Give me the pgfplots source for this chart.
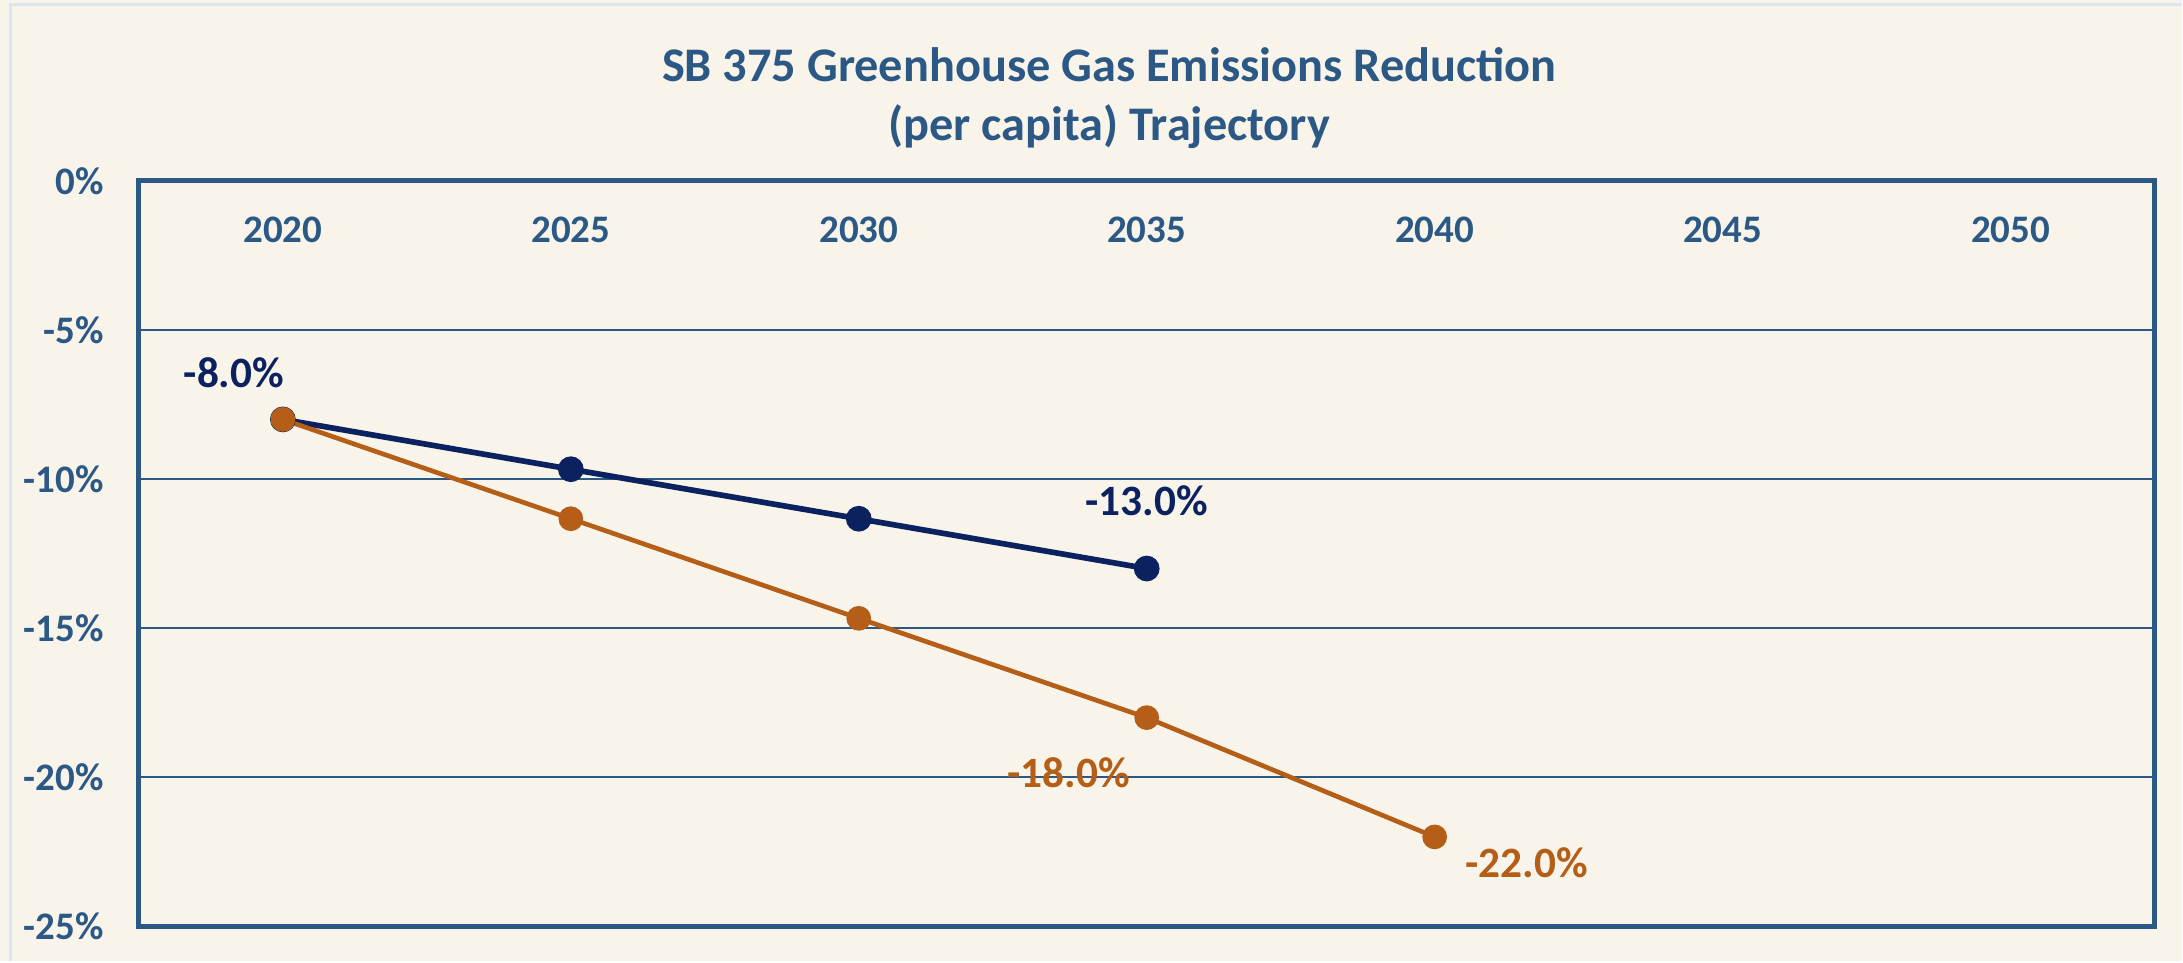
\documentclass[border=0pt]{standalone}
\usepackage{pgfplots}
\pgfplotsset{compat=1.18}
\usepackage{fontspec}
\setmainfont{Carlito}
\definecolor{bgc}{RGB}{248,244,234}
\definecolor{axc}{RGB}{44,88,134}
\definecolor{navy}{RGB}{12,34,96}
\definecolor{orng}{RGB}{180,94,24}
\definecolor{brd}{RGB}{220,230,242}
\begin{document}
\begin{tikzpicture}
\fill[bgc] (-41.7pt,-10.5pt) rectangle (613.2pt,278.1pt);
\draw[brd, line width=0.9pt] (-38.4pt,-10.5pt) -- (-38.4pt,276.6pt) -- (613.2pt,276.6pt);
\node[text=axc, font=\fontsize{14.5}{17}\selectfont\bfseries] at (291.3pt,258.6pt) {SB 375 Greenhouse Gas Emissions Reduction};
\node[text=axc, font=\fontsize{14.5}{17}\selectfont\bfseries] at (291.3pt,240.0pt) {(per capita) Trajectory};
\begin{axis}[
  at={(0,0)}, anchor=south west,
  scale only axis, width=605.1pt, height=223.8pt,
  xmin=-0.5, xmax=6.5, ymin=-25, ymax=0,
  xtick={0,1,2,3,4,5,6},
  xticklabels={2020,2025,2030,2035,2040,2045,2050},
  xticklabel pos=upper,
  xticklabel style={anchor=center, yshift=-14.7pt},
  ytick={-25,-20,-15,-10,-5,0},
  yticklabels={-25\%,-20\%,-15\%,-10\%,-5\%,0\%},
  yticklabel style={anchor=east, xshift=-7pt},
  major tick length=0pt,
  tick label style={text=axc, font=\fontsize{11.7}{13}\selectfont\bfseries},
  ymajorgrids, grid style={axc, line width=0.6pt},
  axis line style={axc, line width=1.5pt},
  clip=false,
]
\addplot[navy, line width=1.7pt, mark=*, mark size=3pt, mark options={solid, fill=navy, draw=navy}]
  coordinates {(0,-8.0) (1,-9.67) (2,-11.33) (3,-13.0)};
\addplot[orng, line width=1.4pt, mark=*, mark size=3pt, mark options={solid, fill=orng, draw=orng}]
  coordinates {(0,-8.0) (1,-11.33) (2,-14.67) (3,-18.0) (4,-22.0)};
\node[text=navy, font=\fontsize{13}{15}\selectfont\bfseries, xshift=-14.7pt, yshift=14.1pt] at (axis cs:0,-8) {-8.0\%};
\node[text=navy, font=\fontsize{13}{15}\selectfont\bfseries, yshift=20.4pt] at (axis cs:3,-13) {-13.0\%};
\node[text=orng, font=\fontsize{13}{15}\selectfont\bfseries, xshift=-23.4pt, yshift=-16.5pt] at (axis cs:3,-18) {-18.0\%};
\node[text=orng, font=\fontsize{13}{15}\selectfont\bfseries, xshift=27.6pt, yshift=-7.8pt] at (axis cs:4,-22) {-22.0\%};
\end{axis}
\end{tikzpicture}
\end{document}
